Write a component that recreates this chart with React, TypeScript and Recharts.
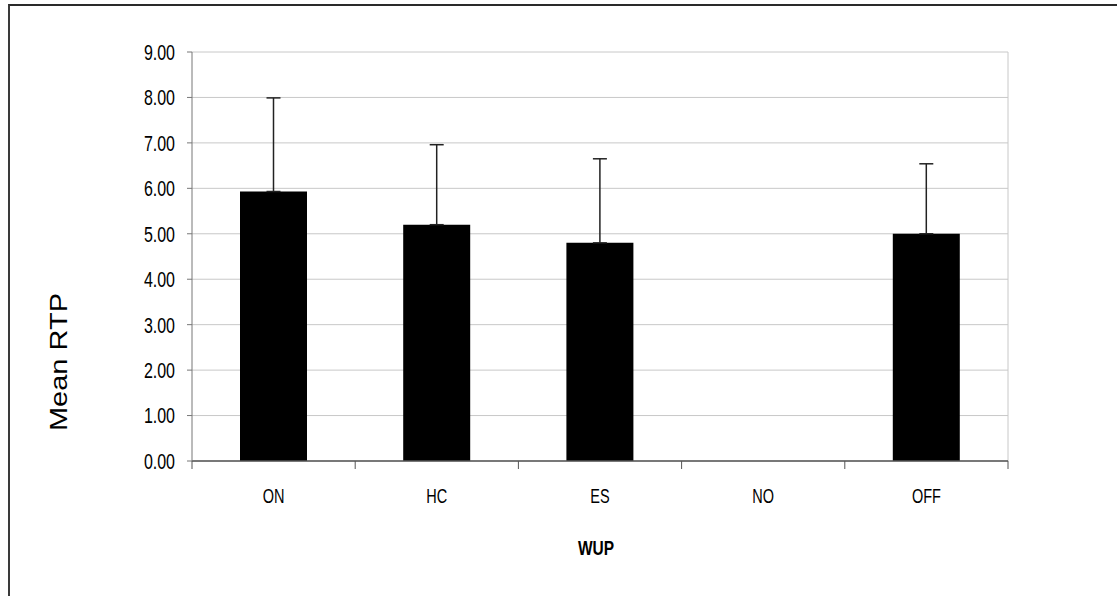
import React from "react"
import { BarChart, Bar, XAxis, YAxis, CartesianGrid, ErrorBar } from "recharts"

const categories = ["ON", "HC", "ES", "NO", "OFF"]
const meanRtp = [5.93, 5.2, 4.8, 0, 5.0]
const upperError = [2.06, 1.76, 1.85, null, 1.54]
const yTicks = [0, 1, 2, 3, 4, 5, 6, 7, 8, 9]

const data = categories.map((c, i) => ({
  name: c,
  mean: meanRtp[i],
  err: upperError[i] == null ? null : [0, upperError[i]],
}))

const W = 1117
const H = 596
const PLOT_LEFT = 192
const PLOT_RIGHT = 1008
const PLOT_TOP = 52
const PLOT_BOTTOM = 461
const BAND = (PLOT_RIGHT - PLOT_LEFT) / categories.length
const FONT = "'Liberation Sans', Arial, sans-serif"

const YTick = ({ x, y, payload }: any) => (
  <g transform={`translate(${x},${y}) scale(1,1.38)`}>
    <text x={0} y={0} dy={5.7} textAnchor="end" fontFamily={FONT} fontSize={16} fill="#000">
      {Number(payload.value).toFixed(2)}
    </text>
  </g>
)

const XTick = ({ x, y, payload, index }: any) => (
  <g>
    <line x1={x - BAND / 2} x2={x - BAND / 2} y1={y} y2={y + 8} stroke="#555" />
    {index === categories.length - 1 && (
      <line x1={x + BAND / 2} x2={x + BAND / 2} y1={y} y2={y + 8} stroke="#555" />
    )}
    <g transform={`translate(${x},${y}) scale(1,1.42)`}>
      <text x={0} y={29.6} textAnchor="middle" fontFamily={FONT} fontSize={14.5} fill="#000">
        {payload.value}
      </text>
    </g>
  </g>
)

const XLabel = ({ viewBox }: any) => (
  <g transform={`translate(${viewBox.x + viewBox.width / 2 - 4},${viewBox.y + 94}) scale(1,1.36)`}>
    <text x={0} y={0} textAnchor="middle" fontFamily={FONT} fontSize={15.5} fontWeight="bold" fill="#000">
      WUP
    </text>
  </g>
)

const YLabel = ({ viewBox }: any) => (
  <g transform={`translate(58.5,${viewBox.y + 310}) rotate(-90) scale(1.21,1)`}>
    <text x={0} y={0} dy={8.6} textAnchor="middle" fontFamily={FONT} fontSize={24} fill="#000">
      Mean RTP
    </text>
  </g>
)

export default function App() {
  return (
    <div style={{ position: "absolute", left: 0, top: 0, width: W, height: H, overflow: "hidden", background: "#fff" }}>
      {/* outer frame, only left and top edges fall inside the window */}
      <div
        style={{
          position: "absolute",
          left: 8,
          top: 4,
          width: W + 100,
          height: H + 100,
          borderLeft: "2px solid #3a3a3a",
          borderTop: "2px solid #2a2a2a",
        }}
      />
      <div style={{ position: "absolute", left: 0, top: 0 }}>
        <BarChart
          width={W}
          height={H}
          data={data}
          margin={{ top: PLOT_TOP, right: W - PLOT_RIGHT, left: 0, bottom: H - PLOT_BOTTOM - 100 }}
          barCategoryGap={0}
        >
          <CartesianGrid
            stroke="#c8c8c8"
            horizontal={true}
            vertical={true}
            verticalCoordinatesGenerator={({ offset }: any) => [offset.left + offset.width]}
          />
          <XAxis
            dataKey="name"
            height={100}
            tickLine={false}
            tickSize={0}
            tickMargin={0}
            axisLine={{ stroke: "#555", strokeWidth: 1.5 }}
            tick={<XTick />}
            interval={0}
            label={<XLabel />}
          />
          <YAxis
            width={PLOT_LEFT}
            domain={[0, 9]}
            ticks={yTicks}
            interval={0}
            tickSize={5}
            tickMargin={12}
            axisLine={{ stroke: "#777" }}
            tickLine={{ stroke: "#777" }}
            tick={<YTick />}
            label={<YLabel />}
          />
          <Bar dataKey="mean" fill="#000" barSize={67} isAnimationActive={false}>
            <ErrorBar dataKey="err" width={7} stroke="#222" strokeWidth={1.5} isAnimationActive={false} />
          </Bar>
        </BarChart>
      </div>
    </div>
  )
}
